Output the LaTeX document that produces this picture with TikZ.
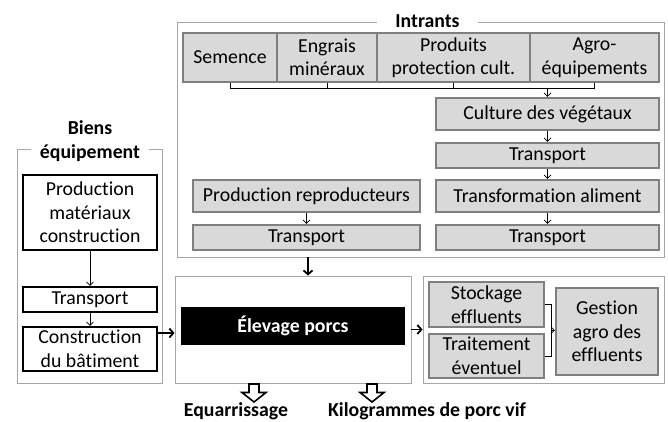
\documentclass[tikz,border=0pt]{standalone}
\usepackage{fontspec}
\setmainfont{Carlito}[Ligatures=NoCommon]
\usetikzlibrary{arrows.meta,calc}
\definecolor{boxfill}{HTML}{D9D9D9}
\definecolor{boxline}{HTML}{7F7F7F}
\definecolor{frameline}{HTML}{A6A6A6}
\begin{document}
\begin{tikzpicture}[x=1pt,y=-1pt,
  every node/.style={font=\fontsize{19.8}{23.5}\selectfont, inner sep=0pt, align=center},
  boldtext/.style={font=\fontsize{19.8}{23.5}\selectfont\bfseries},
  graybox/.style={draw=boxline, line width=2.2pt, fill=boxfill},
  whitebox/.style={draw=black, line width=2.2pt, fill=white},
  frame/.style={draw=frameline, line width=0.9pt},
  title/.style={boldtext, fill=white},
  arr/.style={-{Straight Barb[length=3.5pt,width=7pt]}, line width=0.7pt},
  big/.style={-{Straight Barb[length=4pt,width=9pt]}, line width=1.8pt},
  hollowarrow/.pic={\draw[line width=1.6pt,fill=white,line join=miter] (-5,0) -- (5,0) -- (5,8.5) -- (12,8.5) -- (0,18) -- (-12,8.5) -- (-5,8.5) -- cycle;}
]
\useasboundingbox[fill=white] (0,0) rectangle (668,421);

% frames
\node[frame, minimum width=487, minimum height=234.3] (intr) at (420.5,139.85) {};
\node[frame, minimum width=145, minimum height=234] (biens) at (89.5,266) {};
\node[frame, minimum width=236, minimum height=107] (elevf) at (293,329.5) {};
\node[frame, minimum width=241, minimum height=107] (efff) at (543.5,329.5) {};
\node[title, minimum width=101, anchor=base] (tintr) at (427.5,27) {Intrants};
\node[title, minimum width=118] (tbiens) at (90,141) {Biens\\équipement};

% intrants
\node[graybox, minimum width=94, minimum height=49] (sem) at (230,57.5) {Semence};
\node[graybox, minimum width=100, minimum height=49] (eng) at (327,57.5) {Engrais\\minéraux};
\node[graybox, minimum width=153, minimum height=49] (prod) at (453.5,57.5) {Produits\\protection cult.};
\node[graybox, minimum width=129, minimum height=49] (agro) at (594.5,57.5) {Agro-\\équipements};
\node[graybox, minimum width=223, minimum height=32] (cult) at (547.5,114) {Culture des végétaux};
\node[graybox, minimum width=223, minimum height=25] (tra1) at (547.5,155.5) {Transport};
\node[graybox, minimum width=223, minimum height=32] (transf) at (547.5,196) {Transformation aliment};
\node[graybox, minimum width=223, minimum height=25] (tra3) at (547.5,237.5) {Transport};
\node[graybox, minimum width=227, minimum height=32] (repro) at (306.5,196) {Production reproducteurs};
\node[graybox, minimum width=227, minimum height=25] (tra2) at (306.5,237.5) {Transport};

% biens
\node[whitebox, minimum width=134, minimum height=75] (pmat) at (90,212.5) {Production\\matériaux\\construction};
\node[whitebox, minimum width=134, minimum height=25] (trab) at (90,299.5) {Transport};
\node[whitebox, minimum width=134, minimum height=44] (constr) at (90,349) {Construction\\du bâtiment};

% elevage
\node[fill=black, text=white, boldtext, minimum width=224, minimum height=38] (elev) at (293,326) {Élevage porcs};

% effluents
\node[graybox, minimum width=115, minimum height=45] (stock) at (486.5,304.5) {Stockage\\effluents};
\node[graybox, minimum width=115, minimum height=44] (trait) at (486.5,356) {Traitement\\éventuel};
\node[graybox, minimum width=102, minimum height=87] (gest) at (607,331.5) {Gestion\\agro des\\effluents};

% bus of intrants
\coordinate (bus) at (0,88);
\draw[line width=0.7pt] (sem.south) -- (sem.south |- bus) -- (agro.south |- bus) -- (agro.south);
\draw[line width=0.7pt] (eng.south) -- (eng.south |- bus);
\draw[line width=0.7pt] (prod.south) -- (prod.south |- bus);
\draw[arr] (cult.north |- bus) -- (cult.north);
\draw[arr] (cult) -- (tra1);
\draw[arr] (tra1) -- (transf);
\draw[arr] (transf) -- (tra3);
\draw[arr] (repro) -- (tra2);
\draw[arr] (pmat) -- (trab);
\draw[arr] (trab) -- (constr);

% thick arrows
\coordinate (yA) at (0,333);
\coordinate (xA) at (308,0);
\draw[big] (xA |- intr.south) -- (xA |- elevf.north);
\draw[big] (constr.east |- yA) -- (elevf.west |- yA);
\draw[big] (elevf.east) -- (efff.west);

% bracket
\draw[line width=0.7pt] (stock.east) -- ++(6,0) coordinate (bk1) |- (trait.east);
\coordinate (bk) at ($(bk1)!0.5!(bk1 |- trait.east)$);
\draw[arr] (bk) -- (bk -| gest.west);

% outputs
\pic at (254,384) {hollowarrow};
\pic at (372,384) {hollowarrow};
\node[boldtext, anchor=base] (equ) at (236,416) {Equarrissage};
\node[boldtext, anchor=base] (kg) at (427,416) {Kilogrammes de porc vif};
\end{tikzpicture}
\end{document}
